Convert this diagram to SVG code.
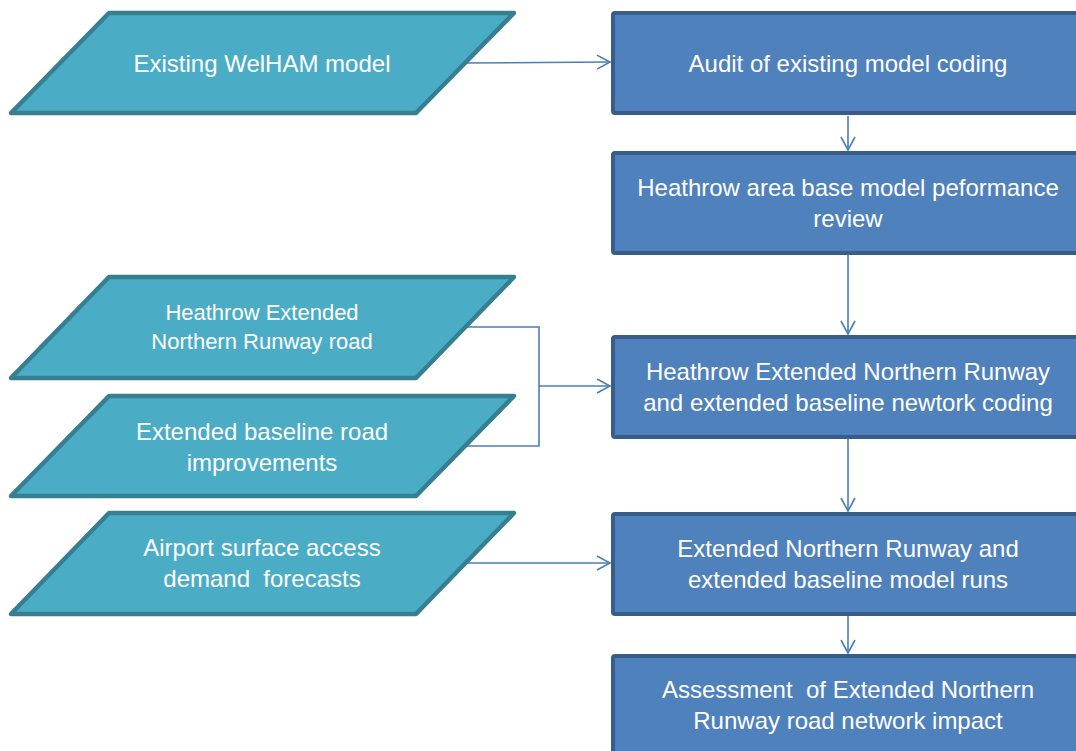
<svg xmlns="http://www.w3.org/2000/svg" width="1076" height="751" viewBox="0 0 1076 751">
<style>
.para{fill:#4BACC6;stroke:#367F91;stroke-width:4.5;stroke-linejoin:round}
.box{fill:#4F81BD;stroke:#385D8A;stroke-width:4}
.t{font-family:"Liberation Sans",Arial,sans-serif;font-size:24px;fill:#FFFFFF;text-anchor:middle;white-space:pre}
.s{font-size:22px}
.c{fill:none;stroke:#4A7EBB;stroke-width:1.6}
</style>
<defs>
<marker id="arr" markerUnits="userSpaceOnUse" markerWidth="20" markerHeight="20" refX="14" refY="8" orient="auto" viewBox="0 0 20 20">
<path d="M1,1 L14,8 L1,15" fill="none" stroke="#4A7EBB" stroke-width="1.6"/>
</marker>
</defs>
<g id="connectors">
<path class="c" d="M465,63 L610,62" marker-end="url(#arr)"/>
<path class="c" d="M848,116 L848,150" marker-end="url(#arr)"/>
<path class="c" d="M848,255 L848,334" marker-end="url(#arr)"/>
<path class="c" d="M467,327 L539,327 L539,446 L464,446"/>
<path class="c" d="M539,386 L610,386" marker-end="url(#arr)"/>
<path class="c" d="M848,439 L848,511" marker-end="url(#arr)"/>
<path class="c" d="M465,563 L610,563" marker-end="url(#arr)"/>
<path class="c" d="M848,616 L848,653" marker-end="url(#arr)"/>
</g>
<g id="n1">
<polygon class="para" points="109,13 514,13 416,113 11,113"/>
<text class="t" x="262" y="72">Existing WelHAM model</text>
</g>
<g id="n2">
<polygon class="para" points="109,277 514,277 416,378 11,378"/>
<text class="t s" x="262" y="320">Heathrow Extended</text>
<text class="t s" x="262" y="349">Northern Runway road</text>
</g>
<g id="n3">
<polygon class="para" points="109,396 514,396 416,496 11,496"/>
<text class="t" x="262" y="440">Extended baseline road</text>
<text class="t" x="262" y="471">improvements</text>
</g>
<g id="n4">
<polygon class="para" points="109,513 514,513 416,614 11,614"/>
<text class="t" x="262" y="556">Airport surface access</text>
<text class="t" x="262" y="587" xml:space="preserve">demand  forecasts</text>
</g>
<g id="b1">
<rect class="box" x="613" y="13" width="470" height="100" rx="2"/>
<text class="t" x="848" y="72">Audit of existing model coding</text>
</g>
<g id="b2">
<rect class="box" x="613" y="153" width="470" height="100" rx="2"/>
<text class="t" x="848" y="196">Heathrow area base model peformance</text>
<text class="t" x="848" y="227">review</text>
</g>
<g id="b3">
<rect class="box" x="613" y="337" width="470" height="100" rx="2"/>
<text class="t" x="848" y="380">Heathrow Extended Northern Runway</text>
<text class="t" x="848" y="411">and extended baseline newtork coding</text>
</g>
<g id="b4">
<rect class="box" x="613" y="514" width="470" height="100" rx="2"/>
<text class="t" x="848" y="557">Extended Northern Runway and</text>
<text class="t" x="848" y="588">extended baseline model runs</text>
</g>
<g id="b5">
<rect class="box" x="613" y="656" width="470" height="110" rx="2"/>
<text class="t" x="848" y="698" xml:space="preserve">Assessment  of Extended Northern</text>
<text class="t" x="848" y="729">Runway road network impact</text>
</g>
</svg>
